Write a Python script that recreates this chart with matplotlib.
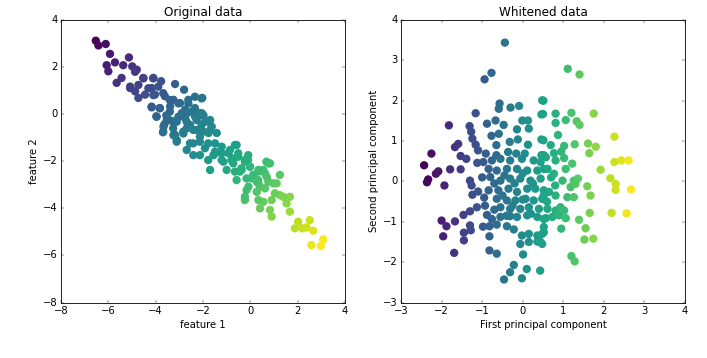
import matplotlib
matplotlib.use("Agg")
import matplotlib.pyplot as plt
import numpy as np

# ---- left panel: original blob ----
orig_x = [
    # upper-left tail
    -6.53, -6.42, -6.11, -5.93, -5.72, -6.07, -6.00, -5.37, -5.13, -4.99,
    -4.80, -5.44, -5.65, -5.08, -4.87, -4.52, -4.10, -3.77, -4.17, -4.03,
    -3.18, -2.80, -2.03, -4.73, -4.45, -3.61, -4.17, -3.83, -3.25, -3.39,
    -2.97, -2.76, -2.34, -2.62, -3.97, -3.55, -3.27, -3.63, -3.69, -2.76,
    -2.34, -1.98, -2.69, -3.18,
    # middle
    -2.05, -1.78, -1.63, -1.42, -1.77, -2.55, -2.27, -3.11, -2.69, -2.41,
    -2.13, -1.92, -1.49, -1.21, -1.56, -0.86, -0.72, -0.51, -0.23, -0.09,
    -1.70, -1.00, -0.65, -0.37, -0.02, 0.12, 0.33, -0.58, 0.68, 0.54,
    -2.69, -3.04, -3.39, -3.67, -2.83, -3.25, -2.41,
    # lower-right tail
    0.76, 1.25, 0.62, 0.76, 0.97, 0.34, 1.25, 1.67, 1.53, 1.67,
    0.90, 0.55, 0.41, 0.83, 0.90, -0.23, 0.34, 0.27, -0.16, 2.02,
    1.88, 2.19, 2.51, 2.65, 2.37, 2.58, 2.98, 3.08, -0.58, -1.21,
    -0.80, -0.38, -0.10, 0.34, 0.06, 0.41, -0.08,
    # dense band, upper half
    -4.87, -4.52, -4.10, -5.08, -4.73, -4.31, -3.89, -3.68, -4.10, -3.40,
    -3.04, -2.62, -2.34, -2.06, -4.17, -3.82, -3.40, -2.90, -2.48, -2.13,
    -3.96, -3.53, -3.11, -2.69, -2.27, -1.92, -3.68, -3.26, -2.83, -2.41,
    -1.99, -3.11, -2.55, -2.13, -1.78,
    # dense band, lower half
    -2.13, -1.70, -2.06, -1.70, -2.13, -1.49, -1.21, -0.65, -0.93, -0.51,
    -1.49, -1.78, -1.14, -0.72, -0.23, -0.01, -0.44, 0.34, -0.16, 0.27,
    0.69, 0.83, 0.62, 1.11, 1.04, -0.23, 1.39,
]
orig_y = [
    3.12, 2.92, 2.98, 2.56, 2.20, 2.08, 1.82, 2.08, 2.41, 2.03,
    1.89, 1.54, 1.33, 1.11, 0.97, 1.54, 1.54, 1.40, 1.11, 0.83,
    1.28, 1.04, 0.69, 0.69, 0.83, 0.76, 0.29, 0.26, 0.61, 0.33,
    0.47, 0.19, 0.26, 0.61, -0.09, -0.05, -0.31, -0.43, -0.77, -0.17,
    -0.09, -0.05, -0.60, -0.88,
    0.04, -0.32, -0.53, -0.80, -0.80, -0.46, -0.67, -1.17, -1.52, -1.74,
    -1.74, -1.45, -1.59, -1.95, -1.74, -1.52, -1.88, -1.81, -1.95, -1.74,
    -2.37, -2.37, -2.44, -2.37, -2.23, -2.58, -2.80, -2.80, -2.02, -2.37,
    0.03, -0.11, -0.26, -0.53, -0.82, -0.89, -1.24,
    -2.09, -2.58, -2.51, -2.87, -2.94, -2.94, -3.44, -3.51, -3.79, -4.14,
    -3.65, -3.72, -4.00, -4.07, -4.35, -3.65, -3.65, -3.30, -3.23, -4.57,
    -4.85, -4.85, -4.50, -4.95, -4.81, -5.56, -5.60, -5.32, -1.31, -1.66,
    -1.95, -2.30, -1.95, -2.37, -2.73, -3.08, -3.08,
    1.80, 1.52, 1.52, 1.17, 1.24, 1.10, 1.17, 0.89, 0.81, 0.60,
    0.46, 0.46, 0.74, 0.67, 0.32, 0.25, 0.11, 0.04, 0.11, 0.04,
    -0.11, -0.25, -0.32, -0.32, -0.25, -0.32, -0.74, -0.60, -0.74, -0.67,
    -0.74, -1.10, -1.24, -1.17, -1.24,
    -0.04, -0.25, -0.46, -0.67, -0.96, -1.24, -1.38, -1.31, -1.66, -1.66,
    -1.66, -1.95, -2.02, -2.09, -2.02, -2.23, -2.44, -2.44, -2.73, -2.87,
    -2.66, -2.09, -3.15, -2.94, -3.36, -3.51, -3.51,
]

# ---- right panel: whitened data (first / second principal component) ----
pc1 = [
    # top-left
    -0.44, -0.77, -0.94, -0.57, -0.59, -0.30, -0.09, 0.48, 0.46, -1.16,
    -1.82, -1.31, -0.88, -0.67, -0.47, -0.01, 0.13, 0.15, -0.14, -1.27,
    -1.24, -0.77, -0.59, 0.46, -0.32, -0.12, 0.13, -1.59, -1.67, -1.16,
    -1.10, -0.65, -2.25, -1.53, -1.39, -0.91, -0.65, -0.36, -0.16, 0.05,
    0.46,
    # top-right
    1.11, 1.40, 0.51, 0.50, 0.81, 1.20, 1.75, 0.81, 1.06, 1.33,
    1.40, 0.87, 2.26, 0.51, 0.69, 1.02, 1.28, 1.61, 1.80, 1.64,
    0.52, 0.77, 0.95, 2.26, 2.43, 2.61,
    # bottom-left, sparse
    -2.43, -2.08, -2.14, -2.33, -2.36, -1.79, -1.53, -1.93, -1.30, -1.26,
    -1.24, -1.12, -2.00, -1.88, -1.67, -1.96, -1.45, -1.45, -1.30, -1.28,
    -0.98, -0.82, -0.64, -0.82, -0.39, -0.22, -0.02, -0.06, -1.69, -0.82,
    -0.64, 0.01, -0.22, -0.31, 0.10, -0.46, -0.02, 0.43,
    # bottom-left, dense
    -0.97, -0.76, -0.55, -0.31, -0.02, 0.27, 0.44, -0.84, -0.64, -0.39,
    -0.14, 0.11, 0.36, 0.52, -0.80, -0.55, -0.31, -0.06, 0.19, 0.44,
    -0.84, -0.60, -0.35, -0.14, 0.11, 0.31, 0.52, -0.64, -0.39, -0.18,
    0.07, 0.27, 0.48, -0.93, -0.55, -0.31, -0.06, 0.15, 0.40, -1.13,
    -1.46, -1.30, -0.88, -0.76, -0.55, -0.31, -0.14, 0.11, 0.36, 0.52,
    0.15, 0.36, 0.52, 0.15, 0.36, 0.48,
    -1.00, -0.70, -0.45, -0.20, 0.00, 0.25, -0.95, -0.50, -0.25, 0.00,
    0.20, -0.40, -0.70, 0.60, 0.70, 0.80, -1.10,
    # bottom-right, sparse
    1.92, 2.16, 2.29, 2.29, 2.67, 2.19, 2.56, 1.65, 1.39, 1.55,
    1.52, 1.74, 1.20, 1.28, 0.95,
    # bottom-right, dense
    0.57, 0.81, 1.02, 1.22, 1.06, 0.61, 0.77, 0.98, 1.26, 1.36,
    1.18, 1.30, 1.59, 1.67, 1.10, 1.26, 0.65, 0.81, 0.52, 0.61,
    0.81, 0.93, 1.02, 0.73, 0.89, 1.06, 0.57, 0.52, 0.48, 0.44,
]
pc2 = [
    3.44, 2.69, 2.53, 1.93, 1.80, 1.83, 1.87, 2.01, 1.66, 1.69,
    1.39, 1.37, 1.43, 1.51, 1.40, 1.51, 1.51, 1.31, 1.29, 1.23,
    1.06, 1.13, 1.18, 1.04, 0.98, 1.04, 0.91, 0.93, 0.85, 0.91,
    0.77, 0.90, 0.69, 0.63, 0.56, 0.69, 0.65, 0.73, 0.69, 0.69,
    0.65,
    2.79, 2.65, 2.00, 1.67, 1.68, 1.70, 1.68, 1.45, 1.52, 1.49,
    1.40, 1.15, 1.11, 1.02, 0.90, 0.88, 0.92, 0.94, 0.86, 0.70,
    0.65, 0.70, 0.74, 0.48, 0.52, 0.52,
    0.40, 0.25, 0.19, 0.05, -0.02, 0.30, 0.30, -0.10, 0.02, -0.10,
    -0.33, 0.46, -0.97, -1.11, -0.99, -1.36, -1.27, -1.46, -1.09, -1.21,
    -1.12, -1.11, -1.07, -1.36, -1.11, -1.19, -1.34, -1.55, -1.77, -1.71,
    -1.79, -1.81, -2.07, -2.25, -2.17, -2.43, -2.40, -2.21,
    0.48, 0.52, 0.56, 0.52, 0.56, 0.52, 0.48, 0.31, 0.27, 0.31,
    0.31, 0.27, 0.27, 0.31, 0.11, 0.02, 0.07, 0.07, 0.02, 0.07,
    -0.22, -0.22, -0.18, -0.26, -0.18, -0.18, -0.22, -0.43, -0.47, -0.47,
    -0.43, -0.47, -0.43, -0.60, -0.64, -0.68, -0.68, -0.64, -0.68, -0.64,
    -0.83, -0.74, -0.83, -0.93, -0.88, -0.86, -0.88, -0.84, -0.88, -0.93,
    -1.30, -1.34, -1.26, -1.50, -1.49, -1.55,
    0.10, -0.05, 0.15, -0.05, 0.20, -0.05, -0.40, -0.35, -0.60, -0.45,
    -0.80, -0.85, -0.70, -0.50, 0.10, -0.10, -0.25,
    0.29, 0.08, -0.06, -0.21, -0.20, -0.78, -0.79, -0.78, -0.95, -1.16,
    -1.44, -1.42, -1.85, -1.98, -1.17,
    0.60, 0.52, 0.58, 0.44, 0.31, 0.31, 0.19, 0.02, 0.02, 0.07,
    -0.14, -0.06, -0.12, -0.35, -0.39, -0.39, -0.26, -0.35, -0.35, -0.68,
    -0.72, -0.64, -0.72, -0.88, -0.84, -0.91, -0.91, -1.13, -1.30, -1.50,
]


def first_component(x, y):
    """Projection on the main axis of the blob, used as the colour value."""
    pts = np.column_stack([x, y])
    pts = pts - pts.mean(axis=0)
    _, _, vt = np.linalg.svd(pts, full_matrices=False)
    comp = pts @ vt[0]
    if np.corrcoef(comp, pts[:, 0])[0, 1] < 0:
        comp = -comp
    return comp


plt.style.use("classic")
W, H = 707, 358
fig = plt.figure(figsize=(W / 60, H / 60), dpi=60, facecolor="white")
ax1 = fig.add_axes([61 / W, 1 - 302.5 / H, 284 / W, 282.5 / H])
ax2 = fig.add_axes([401 / W, 1 - 302.5 / H, 284 / W, 282.5 / H])

ax1.scatter(orig_x, orig_y, c=first_component(orig_x, orig_y),
            cmap="viridis", s=100, linewidths=0)
ax1.set_xlim(-8, 4); ax1.set_ylim(-8, 4)
ax1.set_title("Original data")
ax1.set_xlabel("feature 1"); ax1.set_ylabel("feature 2")

ax2.scatter(pc1, pc2, c=pc1, cmap="viridis", s=100, linewidths=0)
ax2.set_xlim(-3, 4); ax2.set_ylim(-3, 4)
ax2.set_title("Whitened data")
ax2.set_xlabel("First principal component")
ax2.set_ylabel("Second principal component")

fig.savefig("out.png", dpi=60, facecolor="white")
